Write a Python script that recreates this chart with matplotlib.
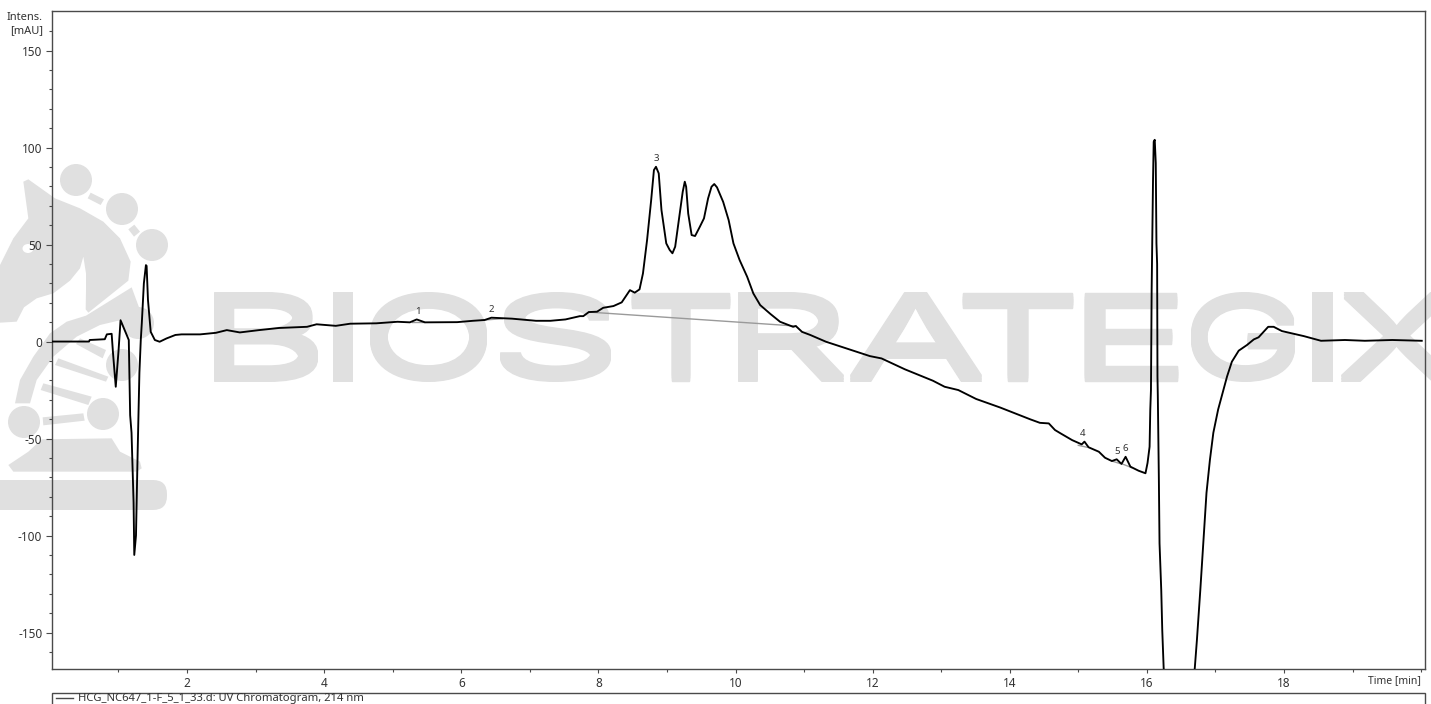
"""Chromatogram trace with the pale logo watermark behind it."""

import matplotlib

matplotlib.use("Agg", force=True)

import matplotlib.patheffects as pe
import matplotlib.pyplot as plt
from matplotlib.patches import Circle, Ellipse, FancyBboxPatch, Polygon, Rectangle
from matplotlib.ticker import FixedLocator
from matplotlib.transforms import Affine2D

W, H = 1431, 704

TIME = [
    0.03, 0.57, 0.58, 0.80, 0.83, 0.90, 0.92, 0.96, 1.00, 1.03, 1.10, 1.15, 1.17, 1.19, 1.22, 1.23,
    1.255, 1.28, 1.305, 1.325, 1.34, 1.37, 1.40, 1.41, 1.43, 1.47, 1.53, 1.60, 1.70, 1.83, 1.92,
    2.19, 2.42, 2.58, 2.77, 3.05, 3.34, 3.75, 3.89, 4.17, 4.38, 4.76, 5.07, 5.25, 5.35, 5.47, 5.94,
    6.17, 6.34, 6.44, 6.74, 7.09, 7.30, 7.52, 7.73, 7.78, 7.86, 7.98, 8.07, 8.22, 8.34, 8.46, 8.53,
    8.60, 8.65, 8.71, 8.77, 8.81, 8.84, 8.88, 8.92, 8.99, 9.04, 9.08, 9.12, 9.18, 9.23, 9.26, 9.28,
    9.31, 9.36, 9.41, 9.48, 9.54, 9.60, 9.65, 9.69, 9.73, 9.82, 9.90, 9.97, 10.06, 10.17, 10.26,
    10.36, 10.51, 10.65, 10.84, 10.88, 10.97, 11.09, 11.32, 11.96, 12.13, 12.47, 12.88, 13.05,
    13.25, 13.51, 13.86, 14.30, 14.44, 14.57, 14.66, 14.74, 14.91, 15.05, 15.09, 15.15, 15.30,
    15.39, 15.49, 15.56, 15.63, 15.69, 15.76, 15.88, 15.98, 16.01, 16.04, 16.05, 16.06, 16.07,
    16.09, 16.10, 16.115, 16.13, 16.14, 16.15, 16.155, 16.16, 16.175, 16.185, 16.21, 16.225, 16.245,
    16.30, 16.45, 16.60, 16.70, 16.73, 16.78, 16.83, 16.87, 16.92, 16.97, 17.04, 17.09, 17.17,
    17.24, 17.34, 17.46, 17.56, 17.63, 17.77, 17.85, 17.97, 18.29, 18.54, 18.89, 19.18, 19.58, 20.01,
]
INTENSITY = [
    0.0, 0.0, 0.8, 1.2, 3.7, 4.0, -6.0, -23.3, -5.0, 11.0, 5.0, 0.8, -38.0, -47.0, -83.0, -110.0,
    -100.0, -56.0, -16.0, 0.8, 9.5, 30.0, 39.4, 39.0, 21.4, 5.0, 0.8, -0.1, 1.6, 3.4, 3.7,
    3.7, 4.5, 5.9, 4.7, 5.9, 7.0, 7.6, 8.9, 8.1, 9.2, 9.4, 10.2, 9.9, 11.4, 9.9, 10.0,
    10.7, 11.1, 12.3, 11.8, 10.7, 10.7, 11.4, 13.1, 13.1, 15.2, 15.4, 17.4, 18.3, 20.2, 26.5, 25.2,
    26.9, 35.1, 52.3, 73.0, 88.4, 90.1, 86.7, 67.8, 50.6, 47.2, 45.5, 48.9, 64.3, 77.2, 82.4, 79.8,
    66.0, 54.9, 54.4, 59.2, 63.5, 73.8, 79.8, 81.2, 79.5, 72.0, 62.6, 50.6, 42.0, 33.4, 24.8,
    18.8, 14.2, 10.2, 7.6, 8.0, 5.0, 3.4, -0.1, -7.5, -8.7, -14.3, -20.2, -23.3,
    -25.0, -29.6, -34.0, -40.1, -41.9, -42.2, -45.6, -47.3, -50.8, -53.0, -51.6, -54.5, -56.8,
    -59.9, -61.6, -60.7, -63.1, -59.4, -64.5, -66.6, -67.9, -62.6, -54.2, -35.3, -25.0, 26.5,
    83.0, 103.0, 104.0, 92.0, 50.6, 40.0, -18.0, -28.0, -70.0, -104.0, -128.0, -149.0, -168.0,
    -205.0, -230.0, -205.0, -168.0, -154.0, -128.0, -100.6, -78.0, -61.0, -47.0, -35.0, -28.4, -18.0,
    -10.4, -4.7, -1.8, 1.1, 2.2, 7.6, 7.6, 5.4, 2.8, 0.4, 0.8, 0.4, 0.8, 0.4,
]

# integration baselines under each peak: (start time, start mAU, end time, end mAU)
BASELINES = [
    (5.28, 9.9, 5.45, 9.9),
    (6.30, 11.0, 6.60, 11.8),
    (7.86, 15.2, 10.88, 8.0),
    (15.00, -53.5, 15.13, -54.5),
    (15.49, -61.6, 15.60, -62.8),
    (15.62, -62.8, 15.78, -65.0),
]

PEAK_LABELS = ["1", "2", "3", "4", "5", "6"]
PEAK_TIMES = [5.37, 6.44, 8.84, 15.07, 15.57, 15.69]
PEAK_HEIGHTS = [11.4, 12.3, 90.1, -51.6, -60.7, -59.4]

X_MAJOR = [2, 4, 6, 8, 10, 12, 14, 16, 18]
X_MINOR = [1, 3, 5, 7, 9, 11, 13, 15, 17, 19, 20]
Y_MAJOR = [-150, -100, -50, 0, 50, 100, 150]
Y_MINOR = [v for v in range(-160, 170, 10) if v % 50 != 0]

LEGEND_TEXT = "HCG_NC647_1-F_5_1_33.d: UV Chromatogram, 214 nm"

MARK = "#e0e0e0"
INK = "#333333"
FRAME = "#4a4a4a"

plt.rcParams["font.family"] = ["Noto Sans", "DejaVu Sans"]
plt.rcParams["axes.unicode_minus"] = False


class FitBox(pe.AbstractPathEffect):
    """Stretch a glyph to fill a pixel box; extra passes thicken its horizontal strokes."""

    def __init__(self, x0, x1, y0, y1, stroke, thicken):
        super().__init__()
        self.box = (x0, x1, y0, y1)
        self.stroke = stroke
        self.thicken = thicken

    def draw_path(self, renderer, gc, tpath, affine, rgbFace=None):
        x0, x1, y0, y1 = self.box
        ext = tpath.get_extents(affine)
        fit = (
            Affine2D()
            .translate(-ext.x0, -ext.y0)
            .scale((x1 - x0) / ext.width, (y1 - y0) / ext.height)
            .translate(x0, y0)
        )
        gc0 = renderer.new_gc()
        gc0.copy_properties(gc)
        gc0.set_linewidth(self.stroke)
        gc0.set_foreground(rgbFace)
        for dy in (-1, -0.5, 0, 0.5, 1):
            shifted = affine + fit + Affine2D().translate(0, dy * self.thicken)
            renderer.draw_path(gc0, tpath, shifted, rgbFace)
        gc0.restore()


def add_watermark_word(fig):
    letters = [
        ("B", 214, 318), ("I", 333, 353), ("O", 370, 487), ("S", 500, 611),
        ("T", 631, 730), ("R", 738, 844), ("A", 850, 982), ("T", 962, 1073),
        ("E", 1084, 1178), ("G", 1191, 1295), ("I", 1312, 1333), ("X", 1341, 1452),
    ]
    top, bottom = 292, 382
    for ch, left, right in letters:
        stroke = 1.0 if ch != "I" else 0.0
        thicken = 3.0
        pad = stroke * 100 / 72 / 2
        txt = fig.text(left / W, 1 - bottom / H, ch, fontsize=60, color=MARK,
                       family="Inter", zorder=-1)
        txt.set_path_effects([FitBox(left + pad, right - pad, H - bottom + pad + thicken,
                                     H - top - pad - thicken, stroke, thicken)])


def add_watermark_logo(fig):
    px = Affine2D().scale(1 / W, -1 / H).translate(0, 1) + fig.transFigure

    def poly(points, color=MARK):
        # outlines were traced on a 3x crop starting at y=150
        pts = [(x / 3, 150 + y / 3) for x, y in points]
        fig.add_artist(Polygon(pts, closed=True, fc=color, ec="none", transform=px, zorder=-1))

    for cx, cy in [(76, 180), (122, 209), (152, 245), (138, 323), (122, 365), (103, 414), (24, 422)]:
        fig.add_artist(Circle((cx, cy), 16, fc=MARK, ec="none", transform=px, zorder=-1))

    poly([(272, 128), (312, 148), (302, 165), (263, 145)])
    poly([(385, 238), (403, 224), (420, 245), (402, 260)])

    # horse head and mane
    poly([
        (70, 95), (85, 88), (165, 145), (240, 175), (310, 215), (360, 265), (392, 335),
        (385, 392), (265, 488), (257, 478), (258, 420), (258, 370), (250, 320), (240, 355),
        (210, 392), (160, 430), (110, 445), (72, 472), (50, 515), (0, 518), (0, 345),
        (40, 265), (85, 205),
    ])
    fig.add_artist(Ellipse((28, 248.5), 11, 9, fc="white", ec="none", transform=px, zorder=-1))

    # neck band, from under the mane down to the left-hand circle
    poly([
        (45, 760), (60, 690), (100, 620), (150, 550), (200, 515), (258, 497), (395, 412),
        (420, 480), (385, 505), (300, 525), (230, 560), (160, 620), (110, 690), (90, 760),
    ])
    poly([(240, 565), (318, 600), (308, 625), (228, 582)])
    poly([(175, 625), (325, 680), (318, 695), (165, 645)])
    poly([(130, 700), (275, 740), (265, 765), (122, 720)])
    poly([(128, 802), (250, 790), (254, 812), (130, 826)])

    # pawn foot and the bar under it
    poly([
        (25, 945), (85, 905), (125, 868), (335, 865), (360, 905), (420, 935), (425, 955),
        (410, 965), (40, 965),
    ])
    fig.add_artist(FancyBboxPatch((-20, 480), 187, 30, boxstyle="round,pad=0,rounding_size=14",
                                  fc=MARK, ec="none", transform=px, zorder=-1,
                                  mutation_aspect=1))


fig = plt.figure(figsize=(W / 100, H / 100), dpi=100, facecolor="white")
ax = fig.add_axes([52 / W, 1 - 669 / H, (1424.5 - 52) / W, (669 - 11) / H])
ax.patch.set_alpha(0)

add_watermark_word(fig)
add_watermark_logo(fig)

for t0, v0, t1, v1 in BASELINES:
    ax.plot([t0, t1], [v0, v1], color="#9a9a9a", lw=1.0, zorder=2)
ax.plot(TIME, INTENSITY, color="black", lw=1.35, zorder=3, solid_joinstyle="round")

for label, t, v in zip(PEAK_LABELS, PEAK_TIMES, PEAK_HEIGHTS):
    ax.annotate(label, (t, v), xytext=(0, 2.5), textcoords="offset points", ha="center", va="bottom",
                fontsize=7, color=INK, zorder=4)

ax.set_xlim(0.03, 20.05)
ax.set_ylim(-168.8, 170.4)
ax.xaxis.set_major_locator(FixedLocator(X_MAJOR))
ax.xaxis.set_minor_locator(FixedLocator(X_MINOR))
ax.yaxis.set_major_locator(FixedLocator(Y_MAJOR))
ax.yaxis.set_minor_locator(FixedLocator(Y_MINOR))
ax.tick_params(which="major", length=4, width=0.8, color=FRAME, labelsize=8.5, labelcolor=INK)
ax.tick_params(which="minor", length=2.2, width=0.8, color=FRAME)
ax.tick_params(axis="y", which="major", pad=3)
ax.tick_params(axis="x", which="major", length=3, pad=2.5)
for spine in ax.spines.values():
    spine.set_color(FRAME)
    spine.set_linewidth(1.0)

fig.text(43 / W, 1 - 17 / H, "Intens.", ha="right", va="center", fontsize=8, color=INK)
fig.text(43 / W, 1 - 31 / H, "[mAU]", ha="right", va="center", fontsize=8, color=INK)
fig.text(1421 / W, 1 - 681 / H, "Time [min]", ha="right", va="center", fontsize=7.5, color=INK)

# legend box runs off the bottom of the picture
fig.add_artist(Rectangle((52 / W, -0.02), (1424.5 - 52) / W, (704 * 0.02 + 11) / H,
                         fc="white", ec=FRAME, lw=1.0, transform=fig.transFigure))
fig.add_artist(plt.Line2D([56 / W, 73 / W], [1 - 698 / H, 1 - 698 / H], color=FRAME, lw=1.0))
fig.text(78 / W, 1 - 701.5 / H, LEGEND_TEXT, ha="left", va="baseline", fontsize=8.1, color=INK)

fig.savefig("out.png", dpi=100, facecolor="white")
